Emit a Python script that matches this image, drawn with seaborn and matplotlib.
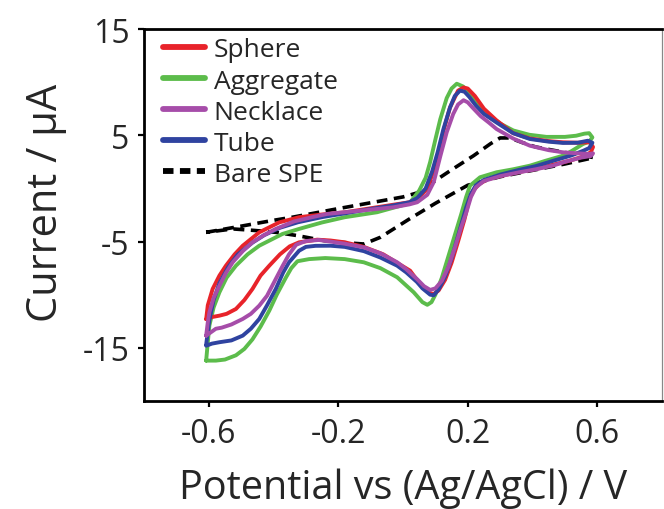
import matplotlib
matplotlib.use("Agg")
import matplotlib.pyplot as plt
import seaborn as sns
import pandas as pd
from matplotlib.lines import Line2D

# ---------------- data ----------------
series_names = ["Sphere", "Aggregate", "Necklace", "Tube", "Bare SPE"]

sphere_potential = [-0.608, -0.603, -0.588, -0.567, -0.547, -0.52, -0.495, -0.444, -0.382, -0.321,
                    -0.25, -0.18, -0.08, 0.02, 0.044, 0.075, 0.107, 0.125, 0.145, 0.17,
                    0.187, 0.2, 0.222, 0.25, 0.289, 0.34, 0.392, 0.45, 0.494, 0.54,
                    0.576, 0.587,
                    0.58, 0.556, 0.516, 0.46, 0.411, 0.35, 0.306, 0.26, 0.235, 0.217,
                    0.205, 0.19, 0.17, 0.15, 0.13, 0.11, 0.094, 0.08, 0.06, 0.043,
                    0.022, -0.018, -0.061, -0.121, -0.18, -0.224, -0.265, -0.321, -0.35, -0.38,
                    -0.413, -0.44, -0.465, -0.49, -0.516, -0.545, -0.567, -0.59, -0.608]
sphere_current = [-12.3, -11.0, -9.46, -8.2, -7.27, -6.2, -5.39, -4.13, -3.19, -2.71,
                  -2.45, -2.25, -1.77, -1.3, -0.99, -0.05, 2.8, 5.4, 7.6, 9.2,
                  9.5, 9.4, 8.7, 7.5, 6.4, 5.2, 4.7, 4.45, 4.34, 4.3,
                  4.34, 3.9,
                  3.4, 3.0, 2.62, 2.2, 1.83, 1.5, 1.2, 0.85, 0.4, -0.2,
                  -1.0, -2.9, -5.0, -7.0, -8.6, -9.6, -9.95, -9.8, -9.2, -8.6,
                  -7.74, -7.0, -6.2, -5.5, -5.07, -4.9, -4.82, -5.07, -5.45, -6.2,
                  -7.27, -8.2, -9.46, -10.5, -11.34, -11.8, -11.97, -12.1, -12.3]

aggregate_potential = [-0.608, -0.603, -0.598, -0.585, -0.567, -0.545, -0.516, -0.48, -0.444, -0.372,
                       -0.321, -0.25, -0.18, -0.08, 0.02, 0.05, 0.07, 0.084, 0.1, 0.115,
                       0.135, 0.15, 0.166, 0.185, 0.2, 0.218, 0.24, 0.269, 0.3, 0.341,
                       0.39, 0.443, 0.5, 0.535, 0.56, 0.575, 0.585,
                       0.575, 0.556, 0.52, 0.494, 0.44, 0.392, 0.34, 0.289, 0.238, 0.207,
                       0.195, 0.18, 0.16, 0.14, 0.12, 0.1, 0.088, 0.075, 0.06, 0.033,
                       -0.018, -0.07, -0.121, -0.18, -0.24, -0.29, -0.326, -0.345, -0.362, -0.39,
                       -0.413, -0.44, -0.465, -0.49, -0.516, -0.55, -0.578, -0.608]
aggregate_current = [-16.2, -14.5, -12.9, -11.2, -9.77, -8.4, -7.27, -6.2, -5.39, -4.28,
                     -3.81, -3.2, -2.71, -2.24, -1.4, -0.2, 1.0, 2.5, 4.6, 6.5,
                     8.5, 9.4, 9.85, 9.6, 9.2, 8.6, 7.6, 6.8, 6.1, 5.45,
                     5.05, 4.85, 4.85, 4.96, 5.15, 5.2, 4.8,
                     4.4, 4.18, 3.5, 3.08, 2.6, 2.14, 1.8, 1.52, 1.05, 0.26,
                     -0.8, -2.4, -4.4, -6.4, -8.4, -10.0, -10.7, -10.95, -10.7, -9.77,
                     -8.36, -7.5, -6.95, -6.65, -6.55, -6.65, -6.85, -7.5, -8.4, -10.0,
                     -11.5, -13.0, -14.2, -15.1, -15.7, -16.1, -16.2, -16.2]

necklace_potential = [-0.608, -0.603, -0.598, -0.585, -0.567, -0.548, -0.526, -0.495, -0.465, -0.43,
                      -0.393, -0.336, -0.28, -0.234, -0.131, -0.029, 0.02, 0.044, 0.075, 0.095,
                      0.115, 0.135, 0.155, 0.17, 0.187, 0.2, 0.215, 0.24, 0.265, 0.289,
                      0.34, 0.392, 0.45, 0.494, 0.54, 0.576, 0.587,
                      0.58, 0.55, 0.5, 0.464, 0.41, 0.359, 0.3, 0.25, 0.225, 0.21,
                      0.195, 0.178, 0.16, 0.14, 0.12, 0.1, 0.084, 0.065, 0.043, 0.01,
                      -0.018, -0.07, -0.121, -0.18, -0.224, -0.26, -0.3, -0.33, -0.352, -0.372,
                      -0.393, -0.42, -0.444, -0.47, -0.495, -0.53, -0.56, -0.578, -0.608]
necklace_current = [-13.85, -12.6, -11.65, -10.3, -9.15, -8.0, -6.95, -5.9, -5.07, -4.4,
                    -3.81, -3.1, -2.7, -2.4, -2.09, -1.77, -1.5, -1.3, -0.6, 0.6,
                    3.0, 5.28, 7.0, 7.9, 8.3, 8.1, 7.6, 6.8, 6.2, 5.59,
                    4.7, 4.02, 3.6, 3.4, 3.3, 3.24, 3.3,
                    3.05, 2.9, 2.5, 2.15, 1.8, 1.52, 1.15, 0.7, 0.1, -0.8,
                    -2.3, -3.8, -5.6, -7.4, -8.7, -9.4, -9.55, -9.2, -8.52, -7.6,
                    -6.95, -6.1, -5.54, -5.2, -5.0, -4.85, -4.95, -5.3, -6.2, -7.3,
                    -8.52, -10.1, -11.03, -11.8, -12.28, -12.8, -13.1, -13.2, -13.85]

tube_potential = [-0.608, -0.603, -0.598, -0.585, -0.567, -0.54, -0.51, -0.465, -0.429, -0.38,
                  -0.324, -0.25, -0.18, -0.114, -0.03, 0.02, 0.044, 0.07, 0.09, 0.107,
                  0.125, 0.145, 0.16, 0.176, 0.19, 0.205, 0.225, 0.25, 0.289, 0.34,
                  0.392, 0.45, 0.494, 0.54, 0.571, 0.585,
                  0.575, 0.558, 0.52, 0.464, 0.41, 0.359, 0.3, 0.25, 0.225, 0.21,
                  0.195, 0.18, 0.165, 0.15, 0.13, 0.11, 0.095, 0.084, 0.06, 0.043,
                  0.01, -0.018, -0.07, -0.121, -0.18, -0.224, -0.27, -0.3, -0.321, -0.352,
                  -0.37, -0.393, -0.42, -0.444, -0.47, -0.495, -0.53, -0.567, -0.59, -0.608]
tube_current = [-14.7, -13.5, -12.4, -10.5, -8.9, -7.4, -6.2, -5.1, -4.4, -3.7,
                -3.18, -2.7, -2.35, -2.0, -1.6, -1.3, -0.9, 0.0, 1.6, 3.4,
                5.6, 7.6, 8.7, 9.2, 9.1, 8.6, 7.8, 7.0, 6.2, 5.2,
                4.65, 4.4, 4.28, 4.3, 4.49, 4.3,
                3.8, 3.56, 3.1, 2.6, 2.1, 1.75, 1.3, 0.8, 0.3, -0.5,
                -1.8, -3.4, -5.0, -6.6, -8.3, -9.5, -10.05, -10.0, -9.4, -8.8,
                -7.9, -7.27, -6.5, -5.9, -5.5, -5.39, -5.4, -5.5, -5.86, -6.95,
                -7.9, -9.46, -11.0, -12.28, -13.2, -13.85, -14.3, -14.47, -14.6, -14.8]

bare_potential = [-0.608, -0.5, -0.4, -0.342, -0.2, -0.1, 0.0, 0.044, 0.084, 0.15,
                  0.218, 0.27, 0.3, 0.33, 0.37, 0.41, 0.48, 0.556, 0.59,
                  0.5, 0.4, 0.3, 0.2, 0.1, 0.02, -0.07, -0.121, -0.18, -0.244,
                  -0.326, -0.393, -0.46, -0.526, -0.608]
bare_current = [-4.13, -3.55, -3.0, -2.71, -1.9, -1.35, -0.8, -0.42, 0.42, 1.75,
                3.08, 4.2, 4.75, 4.75, 4.3, 3.9, 3.5, 3.08, 2.9,
                2.3, 1.7, 1.1, 0.3, -1.4, -2.87, -4.6, -5.23, -5.1, -4.91,
                -4.44, -4.13, -3.95, -3.81, -4.13]

colors = {"Sphere": "#E8232A", "Aggregate": "#5CBC4B", "Necklace": "#A64DA9",
          "Tube": "#2F43A0", "Bare SPE": "#000000"}

data = {
    "Sphere": (sphere_potential, sphere_current),
    "Aggregate": (aggregate_potential, aggregate_current),
    "Necklace": (necklace_potential, necklace_current),
    "Tube": (tube_potential, tube_current),
    "Bare SPE": (bare_potential, bare_current),
}

frames = []
for name, (xs, ys) in data.items():
    frames.append(pd.DataFrame({"potential": xs, "current": ys, "series": name,
                                "idx": range(len(xs))}))
df = pd.concat(frames, ignore_index=True)

# ---------------- style ----------------
sns.set_style("white")
plt.rcParams["font.family"] = ["Open Sans", "DejaVu Sans"]
plt.rcParams["axes.unicode_minus"] = False

fig = plt.figure(figsize=(6.64, 5.10), dpi=100)
ax = fig.add_axes([144 / 664, 108 / 510, 518 / 664, 372 / 510])

draw_order = ["Bare SPE", "Aggregate", "Sphere", "Tube", "Necklace"]
for name in draw_order:
    sub = df[df["series"] == name]
    ls = (0, (3.0, 1.8)) if name == "Bare SPE" else "-"
    lw = 2.6 if name == "Bare SPE" else 2.8
    sns.lineplot(data=sub, x="potential", y="current", sort=False, estimator=None,
                 color=colors[name], linewidth=lw, linestyle=ls, ax=ax,
                 solid_capstyle="round", solid_joinstyle="round", legend=False)

ax.set_xlim(-0.8, 0.8)
ax.set_ylim(-20, 15)
ax.set_xticks([-0.6, -0.2, 0.2, 0.6])
ax.set_xticklabels(["-0.6", "-0.2", "0.2", "0.6"])
ax.set_yticks([15, 5, -5, -15])
ax.set_yticklabels(["15", "5", "-5", "-15"])

for side in ["left", "bottom", "top"]:
    ax.spines[side].set_color("black")
    ax.spines[side].set_linewidth(2.0)
ax.spines["right"].set_color("#888888")
ax.spines["right"].set_linewidth(0.9)

ax.tick_params(axis="both", which="major", direction="out", length=4.5, width=1.6,
               color="black", labelsize=23, left=True, bottom=True)
ax.tick_params(axis="y", pad=6)
ax.tick_params(axis="x", pad=7)

ax.set_xlabel("Potential vs (Ag/AgCl) / V", fontsize=28.5, va="baseline")
ax.xaxis.set_label_coords(0.5, -0.262)
ax.set_ylabel("Current / μA", fontsize=30, va="center", ha="center")
ax.yaxis.set_label_coords(-0.19, 0.535)

legend_order = ["Sphere", "Aggregate", "Necklace", "Tube", "Bare SPE"]
handles = []
for name in legend_order:
    if name == "Bare SPE":
        handles.append(Line2D([], [], color="black", linewidth=4.2, linestyle=(0, (1.8, 1.1))))
    else:
        handles.append(Line2D([], [], color=colors[name], linewidth=4.2))
ax.legend(handles, legend_order, loc="upper left", frameon=False, fontsize=19,
          handlelength=1.6, handletextpad=0.32, labelspacing=0.23,
          borderaxespad=0.0, borderpad=0.25, bbox_to_anchor=(0.024, 0.995))

fig.savefig("out.png", dpi=100)
